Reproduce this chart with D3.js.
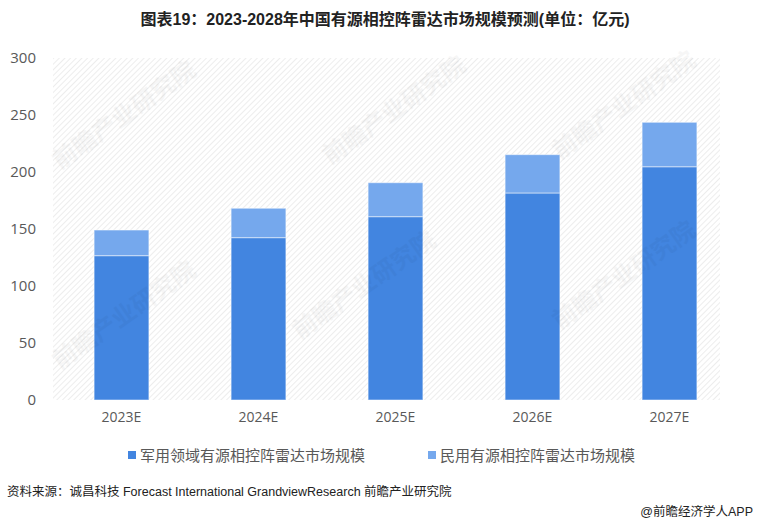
<!DOCTYPE html>
<html>
<head>
<meta charset="utf-8">
<script src="https://cdn.jsdelivr.net/npm/d3@7"></script>
<style>
  body { margin: 0; background: #fff; }
  svg { display: block; font-family: "Liberation Sans", "Noto Sans CJK SC", sans-serif; }
</style>
</head>
<body>
<div id="chart"></div>
<script>
var years = ["2023E", "2024E", "2025E", "2026E", "2027E"];
var military = [126.6, 142.4, 160.8, 181.6, 204.6];
var civil = [22.5, 25.8, 29.8, 33.6, 39.0];
var yTicks = [0, 50, 100, 150, 200, 250, 300];
var seriesNames = ["军用领域有源相控阵雷达市场规模", "民用有源相控阵雷达市场规模"];
var colors = ["#4285e0", "#75a8ed"];

let width = 760, height = 522;
let margin = {top: 58, right: 22, bottom: 122, left: 53};
let plotW = width - margin.left - margin.right;
let plotH = height - margin.top - margin.bottom;

let svg = d3.select("#chart").append("svg")
    .attr("width", width)
    .attr("height", height);

// hatched background
let defs = svg.append("defs");
let pat = defs.append("pattern")
    .attr("id", "hatch")
    .attr("patternUnits", "userSpaceOnUse")
    .attr("width", 4).attr("height", 4)
    .attr("patternTransform", "rotate(45)");
pat.append("line")
    .attr("x1", 0).attr("y1", 0).attr("x2", 0).attr("y2", 4)
    .attr("stroke", "#e6e6e6").attr("stroke-width", 1.4);

// title
svg.append("text")
    .attr("x", 385).attr("y", 25)
    .attr("text-anchor", "middle")
    .attr("font-size", 16).attr("font-weight", "bold")
    .attr("fill", "#222")
    .text("图表19：2023-2028年中国有源相控阵雷达市场规模预测(单位：亿元)");

let g = svg.append("g")
    .attr("transform", "translate(" + margin.left + "," + margin.top + ")");

g.append("rect")
    .attr("x", 0).attr("y", 0)
    .attr("width", 667).attr("height", plotH)
    .attr("fill", "url(#hatch)");

let x = d3.scaleBand()
    .domain(years)
    .range([0, plotW])
    .paddingInner(0.6)
    .paddingOuter(0.3);

let y = d3.scaleLinear()
    .domain([0, 300])
    .range([plotH, 0]);

// faint watermark
let wm = [[60, 170], [330, 165], [560, 160], [60, 370], [300, 340], [560, 330]];
wm.forEach((p) => {
    svg.append("text")
        .attr("transform", "translate(" + p[0] + "," + p[1] + ") rotate(-35)")
        .attr("font-size", 24).attr("font-weight", "bold")
        .attr("fill", "#000").attr("opacity", 0.03)
        .text("前瞻产业研究院");
});

// stacked bars
let stack = years.map((yr, i) => {
    return {year: yr, parts: [[0, military[i]], [military[i], military[i] + civil[i]]]};
});

stack.forEach((d) => {
    d.parts.forEach((p, k) => {
        g.append("rect")
            .attr("x", x(d.year))
            .attr("y", y(p[1]))
            .attr("width", x.bandwidth())
            .attr("height", y(p[0]) - y(p[1]))
            .attr("fill", colors[k])
            .attr("stroke", "rgba(255,255,255,0.5)")
            .attr("stroke-width", 1);
    });
});

// y axis
let yAxis = d3.axisLeft(y).tickValues(yTicks).tickSize(0).tickPadding(17);
g.append("g")
    .call(yAxis)
    .call((a) => a.select(".domain").remove())
    .selectAll("text")
    .attr("font-size", 15)
    .attr("fill", "#595959")
    .attr("font-family", "'Open Sans', 'Liberation Sans', sans-serif");

// x axis
let xAxis = d3.axisBottom(x).tickSize(0).tickPadding(12);
g.append("g")
    .attr("transform", "translate(0," + plotH + ")")
    .call(xAxis)
    .call((a) => a.select(".domain").remove())
    .selectAll("text")
    .attr("font-size", 14)
    .attr("fill", "#595959")
    .attr("font-family", "'Open Sans', 'Liberation Sans', sans-serif");

// legend
let legendX = [128, 428];
seriesNames.forEach((name, i) => {
    svg.append("rect")
        .attr("x", legendX[i]).attr("y", 451)
        .attr("width", 8).attr("height", 8)
        .attr("fill", colors[i]);
    svg.append("text")
        .attr("x", legendX[i] + 12).attr("y", 461)
        .attr("font-size", 15)
        .attr("fill", "#595959")
        .text(name);
});

// source
svg.append("text")
    .attr("x", 7).attr("y", 496)
    .attr("font-size", 12.5).attr("fill", "#222")
    .text("资料来源：诚昌科技 Forecast International GrandviewResearch 前瞻产业研究院");

svg.append("text")
    .attr("x", 753).attr("y", 516)
    .attr("text-anchor", "end")
    .attr("font-size", 12.5).attr("fill", "#222")
    .text("@前瞻经济学人APP");
</script>
</body>
</html>
